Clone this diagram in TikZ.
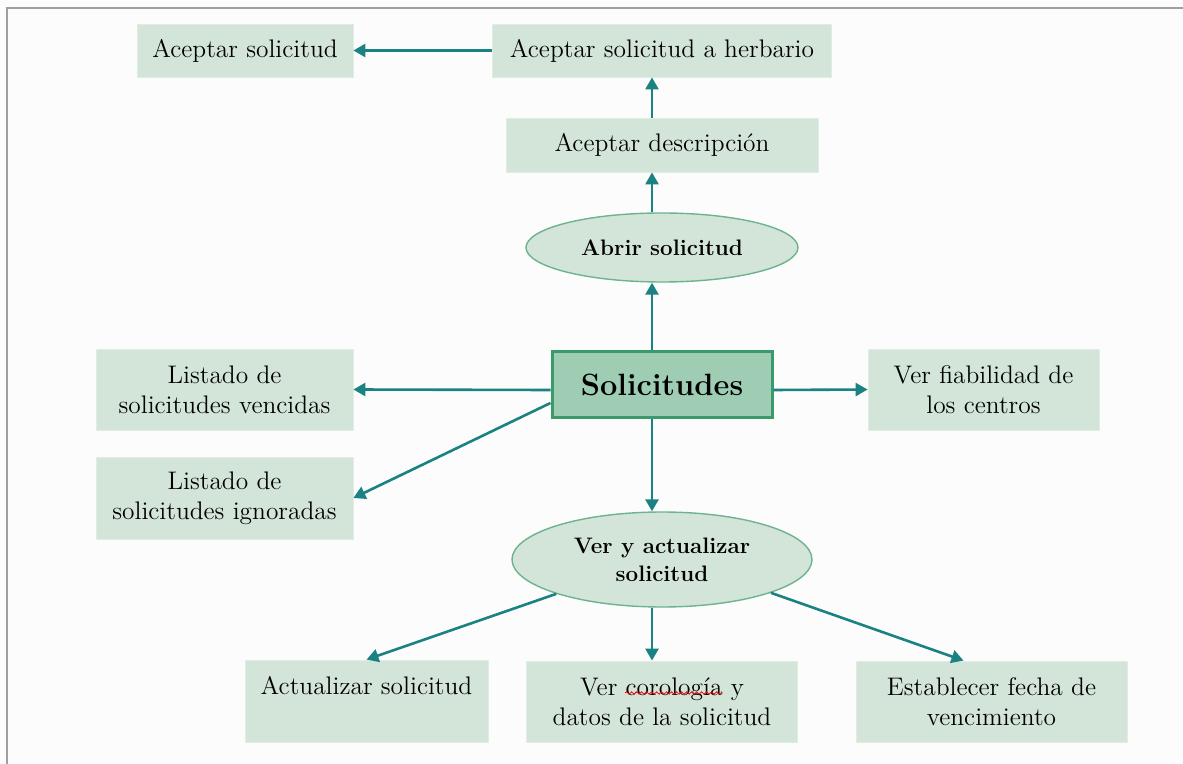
\documentclass[tikz,border=0pt]{standalone}
\usepackage{fontspec}
\usetikzlibrary{arrows.meta,shapes.geometric,decorations.pathmorphing}
\definecolor{cajaverde}{HTML}{D2E5D8}
\definecolor{centroverde}{HTML}{9ECDB4}
\definecolor{bordeverde}{HTML}{3A9A6A}
\definecolor{elipseborde}{HTML}{6DB38E}
\definecolor{flechacolor}{HTML}{1A8282}
\tikzset{
  caja/.style={fill=cajaverde, draw=cajaverde!70!white, align=center, inner sep=0pt,
    font=\fontsize{12.7}{15}\selectfont},
  elipse/.style={ellipse, fill=cajaverde, draw=elipseborde, line width=0.7pt, align=center,
    inner sep=0pt, font=\bfseries\fontsize{11.2}{14}\selectfont},
  flecha/.style={draw=flechacolor, line width=1.3pt, -{Triangle[length=6pt,width=6.5pt]}}
}
\begin{document}
\begin{tikzpicture}[x=0.5pt,y=-0.5pt]
\useasboundingbox[fill=white!99!black] (0,0) rectangle (1183,764);
\draw[gray!75, line width=1pt] (7,764) -- (7,8) -- (1183,8);
% fila superior
\node[caja, minimum width=108pt, minimum height=26.5pt] (aceptar) at (245,50.5) {Aceptar solicitud};
\node[caja, minimum width=169.5pt, minimum height=26.5pt] (herbario) at (662,50.5) {Aceptar solicitud a herbario};
\node[caja, minimum width=156pt, minimum height=27pt] (descripcion) at (662,145) {Aceptar descripción};
\node[elipse, minimum width=136pt, minimum height=34.5pt] (abrir) at (662,247.5) {Abrir solicitud};
% centro
\node[draw=bordeverde, fill=centroverde, line width=1.5pt, minimum width=110pt, minimum height=33pt,
  font=\bfseries\fontsize{15.4}{18}\selectfont] (solic) at (662,385) {Solicitudes};
\node[caja, minimum width=128.5pt, minimum height=40.5pt] (vencidas) at (224.5,389.5) {Listado de\\solicitudes vencidas};
\node[caja, minimum width=115.5pt, minimum height=40.5pt] (fiabilidad) at (983.5,389.5) {Ver fiabilidad de\\los centros};
\node[caja, minimum width=128.5pt, minimum height=41pt] (ignoradas) at (224.5,498) {Listado de\\solicitudes ignoradas};
% parte inferior
\node[elipse, minimum width=150pt, minimum height=47.5pt] (ver) at (662,559.5) {Ver y actualizar\\solicitud};
\node[caja, minimum width=121.5pt, minimum height=41pt] (actualizar) at (366.5,701) {Actualizar solicitud\\[-4pt]\strut};
\node[caja, minimum width=135.5pt, minimum height=40.5pt] (corologia) at (662,701.5) {Ver corología y\\datos de la solicitud};
\node[caja, minimum width=135.5pt, minimum height=40.5pt] (fecha) at (991.5,701.5) {Establecer fecha de\\vencimiento};
% subrayado del corrector
\draw[red, line width=0.4pt, decorate, decoration={snake, amplitude=0.6pt, segment length=2.5pt}]
  ([shift={(-37,-8.5)}]corologia.center) -- ([shift={(61,-8.5)}]corologia.center);
% flechas
\draw[flecha] (herbario.west) -- (aceptar.east);
\draw[flecha] ([xshift=-5pt]descripcion.north) -- ([xshift=-5pt]herbario.south);
\draw[flecha] ([xshift=-5pt]abrir.north) -- ([xshift=-5pt]descripcion.south);
\draw[flecha] ([xshift=-5pt]solic.north) -- ([xshift=-5pt]abrir.south);
\draw[flecha] ([yshift=-2.5pt]solic.west) -- (vencidas.east);
\draw[flecha] ([yshift=-9pt]solic.west) -- (ignoradas.east);
\draw[flecha] ([yshift=-2.5pt]solic.east) -- (fiabilidad.west);
\draw[flecha] ([xshift=-5pt]solic.south) -- ([xshift=-5pt]ver.north);
\draw[flecha] (ver.198) -- (actualizar.north);
\draw[flecha] ([xshift=-5pt]ver.south) -- ([xshift=-5pt]corologia.north);
\draw[flecha] (ver.343) -- ([xshift=-14pt]fecha.north);
\end{tikzpicture}
\end{document}
